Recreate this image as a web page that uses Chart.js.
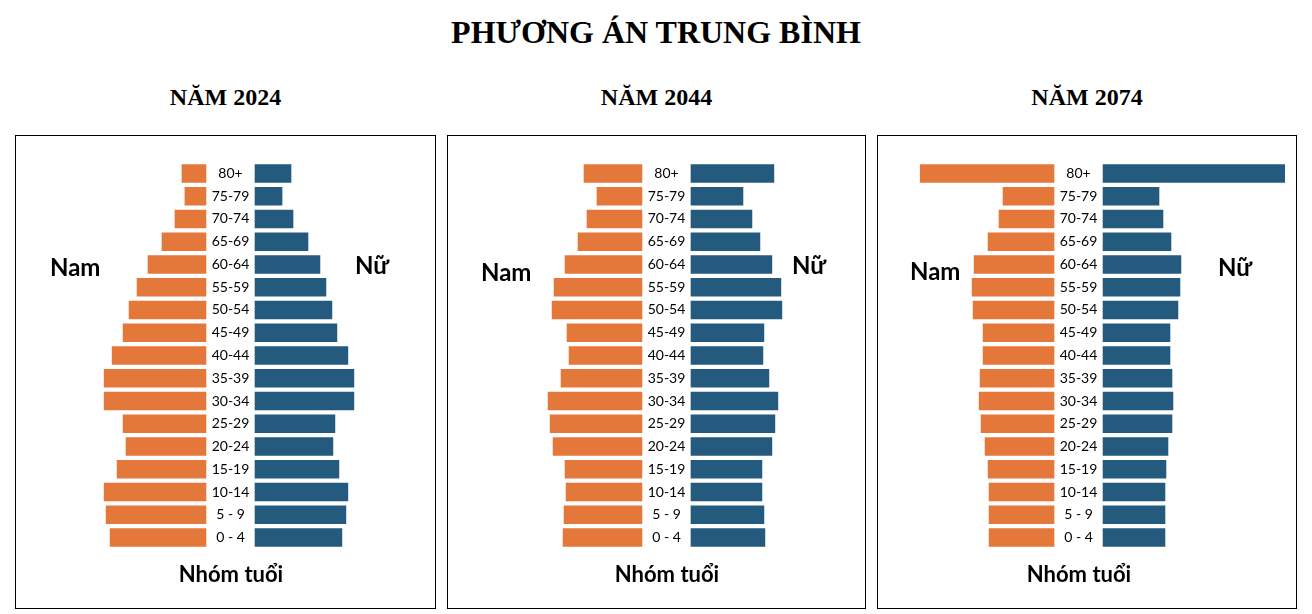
<!DOCTYPE html>
<html>
<head>
<meta charset="utf-8">
<script src="https://cdn.jsdelivr.net/npm/chart.js@4/dist/chart.umd.min.js"></script>
<style>
  body { margin: 0; width: 1312px; height: 614px; background: #fff; position: relative; overflow: hidden; }
  .title { position: absolute; left: 0; width: 1312px; top: 14px; text-align: center;
    font: bold 32px "Liberation Serif", "DejaVu Serif", serif; }
  .year { position: absolute; top: 84px; text-align: center; font: bold 24px "Liberation Serif", serif; }
  .box { position: absolute; top: 135px; height: 474px; border: 1px solid #000; box-sizing: border-box; }
  .box canvas { position: absolute; left: 0; top: 0; }
  .lbl { position: absolute; font: bold 24px Lato, "Open Sans", sans-serif; }
  .axis { position: absolute; top: 424px; font: bold 22px Lato, "Open Sans", sans-serif; transform: translateX(-50%); white-space: nowrap; }
</style>
</head>
<body>
<div class="title">PHƯƠNG ÁN TRUNG BÌNH</div>
<div id="root"></div>
<script>
const ageGroups = ["80+", "75-79", "70-74", "65-69", "60-64", "55-59", "50-54", "45-49", "40-44",
  "35-39", "30-34", "25-29", "20-24", "15-19", "10-14", "5 - 9", "0 - 4"];
const years = ["NĂM 2024", "NĂM 2044", "NĂM 2074"];

// bar lengths (relative units)
const male2024 = [26, 23, 33, 46, 60, 71, 79, 85, 96, 104, 104, 85, 82, 91, 104, 102, 98];
const female2024 = [38, 29, 40, 55, 67, 73, 79, 84, 95, 101, 101, 82, 80, 86, 95, 93, 89];
const male2044 = [60, 47, 57, 66, 79, 90, 92, 77, 75, 83, 96, 94, 91, 79, 78, 80, 81];
const female2044 = [85, 54, 63, 71, 83, 92, 93, 75, 74, 80, 89, 86, 83, 73, 73, 75, 76];
const male2074 = [136, 53, 57, 68, 82, 84, 83, 73, 73, 76, 77, 75, 71, 68, 67, 67, 67];
const female2074 = [184, 58, 62, 70, 80, 79, 77, 69, 69, 71, 72, 71, 67, 65, 64, 64, 64];

const GAP = 24;
const panels = [
  { left: 15, width: 421, min: -215, max: 205, male: male2024, female: female2024,
    nam: [50, 252], nu: [355, 250] },
  { left: 447, width: 419, min: -219, max: 199, male: male2044, female: female2044,
    nam: [481, 257], nu: [792, 250] },
  { left: 877, width: 420, min: -201, max: 218, male: male2074, female: female2074,
    nam: [910, 256], nu: [1218, 252] }
];

const centerLabels = {
  id: 'centerLabels',
  afterDatasetsDraw(chart) {
    const { ctx, scales: { x, y } } = chart;
    ctx.save();
    ctx.font = '14px Lato, "Open Sans", sans-serif';
    ctx.fillStyle = '#000';
    ctx.textAlign = 'center';
    ctx.textBaseline = 'middle';
    ageGroups.forEach((g, i) => ctx.fillText(g, x.getPixelForValue(0), y.getPixelForValue(i)));
    ctx.restore();
  }
};

const root = document.getElementById('root');
panels.forEach((p, k) => {
  const yr = document.createElement('div');
  yr.className = 'year';
  yr.style.left = p.left + 'px';
  yr.style.width = p.width + 'px';
  yr.textContent = years[k];
  root.appendChild(yr);

  const box = document.createElement('div');
  box.className = 'box';
  box.style.left = p.left + 'px';
  box.style.width = p.width + 'px';
  const cv = document.createElement('canvas');
  cv.width = p.width - 2; cv.height = 472;
  cv.style.width = (p.width - 2) + 'px'; cv.style.height = '472px';
  box.appendChild(cv);
  const ax = document.createElement('div');
  ax.className = 'axis';
  ax.style.left = (-p.min) + 'px';
  ax.textContent = 'Nhóm tuổi';
  box.appendChild(ax);
  root.appendChild(box);

  [['Nam', p.nam], ['Nữ', p.nu]].forEach(([t, pos]) => {
    const d = document.createElement('div');
    d.className = 'lbl';
    d.style.left = pos[0] + 'px';
    d.style.top = pos[1] + 'px';
    d.textContent = t;
    root.appendChild(d);
  });

  new Chart(cv, {
    type: 'bar',
    data: {
      labels: ageGroups,
      datasets: [
        { label: 'Nam', data: p.male.map(v => [-GAP - v, -GAP]), backgroundColor: '#E4773A',
          borderColor: '#fff', borderWidth: 1, categoryPercentage: 1, barPercentage: 0.9, grouped: false },
        { label: 'Nữ', data: p.female.map(v => [GAP, GAP + v]), backgroundColor: '#245A7E',
          borderColor: '#fff', borderWidth: 1, categoryPercentage: 1, barPercentage: 0.9, grouped: false }
      ]
    },
    options: {
      indexAxis: 'y',
      responsive: false,
      animation: false,
      layout: { padding: { top: 26, bottom: 59, left: 0, right: 0 } },
      plugins: { legend: { display: false }, tooltip: { enabled: false } },
      scales: {
        x: { display: false, min: p.min, max: p.max },
        y: { display: false }
      }
    },
    plugins: [centerLabels]
  });
});
</script>
</body>
</html>
